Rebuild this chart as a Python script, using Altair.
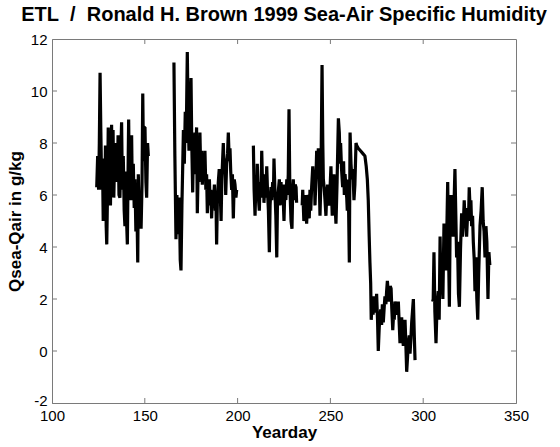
import altair as alt
import pandas as pd

NB = "\u00a0"
TITLE = "ETL" + NB + NB + "/" + NB + NB + "Ronald H. Brown 1999 Sea-Air Specific Humidity"
X_TITLE = "Yearday"
Y_TITLE = "Qsea-Qair in g/kg"
X_TICKS = [100, 150, 200, 250, 300, 350]
Y_TICKS = [-2, 0, 2, 4, 6, 8, 10, 12]

# (yearday, Qsea-Qair), one list per continuous stretch
SEG1 = [(124.1, 6.3), (124.6, 7.5), (125.1, 6.2), (125.5, 8.0), (125.9, 10.7), (126.3, 8.5),
        (126.8, 6.2), (127.2, 7.4), (127.6, 5.0), (128.0, 6.8), (128.4, 5.2), (128.8, 7.9),
        (129.2, 4.8), (129.5, 4.1), (130.0, 6.5), (130.3, 8.6), (130.7, 6.0), (131.1, 7.9),
        (131.5, 5.6), (132.1, 8.7), (132.5, 6.4), (132.9, 8.5), (133.3, 5.9), (133.9, 8.0),
        (134.3, 6.8), (134.7, 7.6), (135.2, 6.5), (135.6, 8.3), (136.1, 6.0), (136.6, 5.9),
        (137.0, 7.4), (137.5, 8.8), (137.9, 6.2), (138.4, 7.5), (138.9, 5.4), (139.3, 4.8),
        (139.7, 6.9), (140.1, 5.2), (140.6, 4.1), (141.0, 7.0), (141.3, 8.9), (141.7, 6.3),
        (142.1, 8.3), (142.5, 5.8), (142.9, 8.3), (143.3, 5.9), (143.8, 7.2), (144.3, 5.5),
        (144.7, 6.6), (145.2, 4.6), (145.7, 5.8), (146.2, 3.4), (146.5, 6.8), (147.0, 5.2),
        (147.5, 6.1), (148.0, 4.7), (148.5, 6.4), (148.9, 9.9), (149.3, 7.3), (149.7, 8.6),
        (150.1, 8.6), (150.6, 6.5), (151.0, 5.9), (151.5, 8.0), (151.9, 7.5)]

SEG2 = [(165.7, 11.1), (166.2, 7.5), (166.8, 4.3), (167.3, 6.0), (167.8, 4.6), (168.1, 4.5),
        (168.6, 5.9), (169.1, 3.5), (169.5, 3.1), (170.0, 5.6), (170.4, 7.0), (170.8, 8.5),
        (171.3, 7.2), (171.8, 9.2), (172.3, 8.0), (172.9, 11.5), (173.3, 9.3), (173.8, 7.7),
        (174.3, 9.0), (174.9, 10.5), (175.3, 8.0), (175.8, 6.1), (176.2, 7.8), (176.6, 6.8),
        (177.0, 8.4), (177.4, 7.0), (177.9, 8.6), (178.3, 5.3), (178.8, 7.2), (179.2, 6.5),
        (179.7, 8.4), (180.1, 7.0), (180.6, 7.7), (181.0, 6.4), (181.5, 7.5), (182.0, 6.6),
        (182.4, 7.7), (182.9, 6.2), (183.3, 6.8), (183.7, 5.3), (184.2, 6.2), (184.8, 6.6),
        (185.2, 5.6), (185.6, 6.2), (186.0, 5.1), (186.5, 6.1), (187.0, 5.6), (187.5, 6.4),
        (188.0, 5.4), (188.3, 6.0), (188.7, 4.1), (189.1, 5.8), (189.6, 6.5), (190.1, 7.0),
        (190.6, 6.2), (191.1, 5.0), (191.5, 6.6), (191.9, 7.3), (192.3, 8.0), (192.8, 6.8),
        (193.2, 7.4), (193.6, 6.0), (194.1, 7.2), (194.6, 7.6), (195.0, 8.4), (195.5, 7.3),
        (195.9, 7.8), (196.3, 6.9), (196.8, 6.2), (197.2, 6.8), (197.7, 5.1), (198.2, 6.6),
        (198.6, 6.4), (199.1, 5.9), (199.5, 6.2)]

SEG3 = [(208.5, 7.9), (208.9, 6.2), (209.4, 5.2), (209.9, 6.6), (210.3, 5.8), (210.6, 7.2),
        (211.1, 6.0), (211.7, 5.4), (212.1, 6.5), (212.6, 5.9), (213.0, 7.7), (213.5, 6.2),
        (213.9, 6.8), (214.2, 5.7), (214.7, 6.4), (215.2, 5.9), (215.7, 7.1), (216.1, 6.2),
        (216.6, 5.4), (217.1, 3.8), (217.5, 5.6), (218.0, 6.3), (218.4, 5.8), (218.9, 6.5),
        (219.3, 6.0), (219.6, 7.4), (220.1, 6.2), (220.6, 5.2), (221.1, 3.6), (221.5, 5.8),
        (222.0, 6.2), (222.5, 6.6), (222.9, 5.6), (223.4, 6.5), (223.8, 5.8), (224.3, 6.4),
        (224.7, 5.6), (225.0, 5.0), (225.5, 6.4), (226.0, 5.8), (226.5, 6.6), (226.9, 6.0),
        (227.3, 6.8), (227.7, 9.3), (228.1, 6.5), (228.5, 5.6), (228.8, 5.0), (229.3, 4.7),
        (229.7, 6.2), (230.0, 6.6), (230.5, 5.8), (231.0, 6.4), (231.5, 6.3), (231.8, 5.7)]

SEG4 = [(234.8, 5.6), (235.1, 6.2), (235.7, 5.0), (236.3, 5.5), (236.8, 6.0), (237.2, 4.9),
        (237.7, 5.8), (238.1, 6.0), (238.6, 5.1), (239.0, 6.2), (239.4, 5.4), (239.9, 6.3),
        (240.5, 7.1), (241.0, 6.2), (241.4, 6.8), (241.7, 5.6), (242.2, 6.6), (242.6, 7.7),
        (243.1, 6.8), (243.5, 7.8), (244.0, 6.5), (244.4, 5.2), (244.9, 6.6), (245.5, 11.0),
        (245.9, 8.0), (246.2, 6.6), (246.6, 6.3), (247.1, 5.8), (247.6, 5.2), (248.0, 6.0),
        (248.5, 6.4), (249.0, 5.8), (249.4, 5.6), (249.9, 6.4), (250.3, 7.1), (250.7, 5.9),
        (251.0, 5.2), (251.5, 6.2), (251.9, 6.8), (252.4, 5.8), (253.0, 4.9), (253.6, 6.5),
        (254.3, 8.95), (254.8, 8.4), (255.2, 7.2), (255.5, 8.0), (256.0, 7.0), (256.6, 6.3),
        (257.1, 7.3), (257.5, 6.0), (257.9, 6.8), (258.4, 6.2), (258.8, 5.9), (259.1, 5.4),
        (259.6, 6.6), (260.2, 3.4), (260.6, 8.4), (261.1, 7.2), (261.6, 6.6), (262.1, 7.0),
        (262.7, 5.8), (263.2, 6.4), (263.8, 8.0), (264.2, 7.9), (265.0, 7.8), (266.2, 7.7),
        (267.4, 7.6), (268.6, 7.5), (269.3, 7.1), (269.9, 6.6), (270.4, 5.8), (270.9, 4.4),
        (271.3, 3.4), (271.7, 2.6), (272.0, 1.2), (272.4, 1.8), (273.0, 1.4), (273.5, 2.1),
        (274.0, 1.5), (274.6, 1.6), (274.9, 2.2), (275.4, 1.2), (275.8, 0.0), (276.3, 0.9),
        (276.7, 1.3), (277.1, 1.6), (277.6, 1.0), (278.0, 1.8), (278.5, 1.1), (279.0, 1.7),
        (279.4, 2.1), (279.9, 1.8), (280.3, 2.3), (280.7, 2.7), (281.2, 2.2), (281.7, 1.9),
        (282.2, 2.5), (282.7, 2.4), (283.1, 1.6), (283.6, 0.8), (284.1, 1.5), (284.4, 1.2),
        (284.8, 1.9), (285.3, 1.7), (285.7, 1.4), (286.2, 1.6), (286.6, 1.9), (287.1, 1.0),
        (287.5, 0.3), (287.9, 1.0), (288.4, 1.3), (288.8, 0.6), (289.3, 0.2), (289.7, 0.8),
        (290.2, 1.2), (290.6, 0.4), (291.1, -0.8), (291.6, -0.2), (292.0, 0.3), (292.5, 0.6),
        (292.9, -0.1), (293.4, 0.5), (293.8, 1.1), (294.2, 1.5), (294.7, 2.0), (295.2, 0.6),
        (295.6, -0.35)]

SEG5 = [(305.1, 1.9), (305.4, 2.0), (305.8, 3.8), (306.3, 1.5), (306.9, 0.3), (307.4, 1.6),
        (308.1, 2.3), (308.6, 1.2), (309.1, 4.4), (309.5, 2.6), (310.0, 3.0), (310.6, 2.0),
        (311.2, 4.9), (311.7, 3.8), (312.3, 3.1), (312.7, 4.5), (313.2, 6.5), (313.6, 4.2),
        (314.1, 1.7), (314.5, 4.8), (315.0, 6.0), (315.6, 5.2), (316.2, 4.4), (316.6, 5.6),
        (317.1, 7.0), (317.5, 5.5), (318.0, 3.6), (318.5, 4.2), (319.0, 2.2), (319.5, 1.7),
        (320.1, 3.9), (320.7, 5.3), (321.2, 4.4), (321.6, 4.8), (322.1, 5.8), (322.5, 5.1),
        (323.0, 5.5), (323.4, 4.4), (324.0, 5.4), (324.4, 5.0), (324.8, 6.3), (325.3, 5.4),
        (325.7, 5.8), (326.1, 4.8), (326.6, 5.2), (327.0, 4.2), (327.5, 3.5), (327.9, 2.3),
        (328.4, 3.6), (328.9, 2.0), (329.4, 1.2), (329.9, 3.0), (330.3, 4.0), (330.6, 4.8),
        (331.2, 5.4), (331.8, 6.3), (332.3, 5.0), (332.8, 4.6), (333.3, 3.6), (333.8, 4.8),
        (334.3, 4.2), (334.9, 2.0), (335.4, 3.8), (335.9, 3.3)]

rows = []
for sid, seg in enumerate([SEG1, SEG2, SEG3, SEG4, SEG5]):
    for d, v in seg:
        rows.append({"day": d, "q": v, "seg": sid})
df = pd.DataFrame(rows)

W, H = 464, 364
GREY = "#7a7a7a"
FONT = "Liberation Sans"
TL = 5  # inward tick length

xscale = alt.Scale(domain=[X_TICKS[0], X_TICKS[-1]], nice=False, zero=False)
yscale = alt.Scale(domain=[Y_TICKS[0], Y_TICKS[-1]], nice=False, zero=False)

xaxis = alt.Axis(values=X_TICKS, title=X_TITLE, ticks=False, grid=False,
                 domainColor=GREY, labelColor="black", labelFont=FONT, labelFontSize=15,
                 labelPadding=5, labelFlush=False, labelOverlap=False,
                 labelExpr="'' + datum.value",
                 titleFont=FONT, titleFontSize=17, titleFontWeight="bold",
                 titleColor="black", titlePadding=1)
yaxis = alt.Axis(values=Y_TICKS, title=Y_TITLE, ticks=False, grid=False,
                 domainColor=GREY, labelColor="black", labelFont=FONT, labelFontSize=15,
                 labelPadding=5, labelFlush=False, labelOverlap=False,
                 labelExpr="'' + datum.value",
                 labelOffset={"condition": {"test": "datum.value == -2", "value": -3}, "value": 0},
                 titleFont=FONT, titleFontSize=17, titleFontWeight="bold",
                 titleColor="black", titlePadding=6)

line = alt.Chart(df).mark_line(color="black", strokeWidth=3.2, strokeJoin="bevel").encode(
    x=alt.X("day:Q", scale=xscale, axis=xaxis),
    y=alt.Y("q:Q", scale=yscale, axis=yaxis),
    detail="seg:N",
)

xt = pd.DataFrame({"day": X_TICKS[1:-1]})
yt = pd.DataFrame({"q": Y_TICKS[1:-1]})

xt_bottom = alt.Chart(xt).mark_rule(color=GREY, strokeWidth=1).encode(
    x=alt.X("day:Q", scale=xscale, axis=xaxis), y=alt.value(H), y2=alt.value(H - TL))
xt_top = alt.Chart(xt).mark_rule(color=GREY, strokeWidth=1).encode(
    x=alt.X("day:Q", scale=xscale, axis=xaxis), y=alt.value(0), y2=alt.value(TL))
yt_left = alt.Chart(yt).mark_rule(color=GREY, strokeWidth=1).encode(
    y=alt.Y("q:Q", scale=yscale, axis=yaxis), x=alt.value(0), x2=alt.value(TL))
yt_right = alt.Chart(yt).mark_rule(color=GREY, strokeWidth=1).encode(
    y=alt.Y("q:Q", scale=yscale, axis=yaxis), x=alt.value(W), x2=alt.value(W - TL))

chart = alt.layer(line, xt_bottom, xt_top, yt_left, yt_right).properties(
    width=W, height=H,
    title=alt.TitleParams(TITLE, font=FONT, fontSize=20, fontWeight="bold", color="black",
                          anchor="middle", frame="group", baseline="alphabetic",
                          offset=11, dy=20),
    autosize=alt.AutoSizeParams(type="none"),
    padding={"left": 52, "top": 39, "right": 44, "bottom": 44},
    background="white",
).configure_view(stroke=GREY, strokeWidth=1)

chart.save("out.html", embed_options={"renderer": "svg", "actions": False})
